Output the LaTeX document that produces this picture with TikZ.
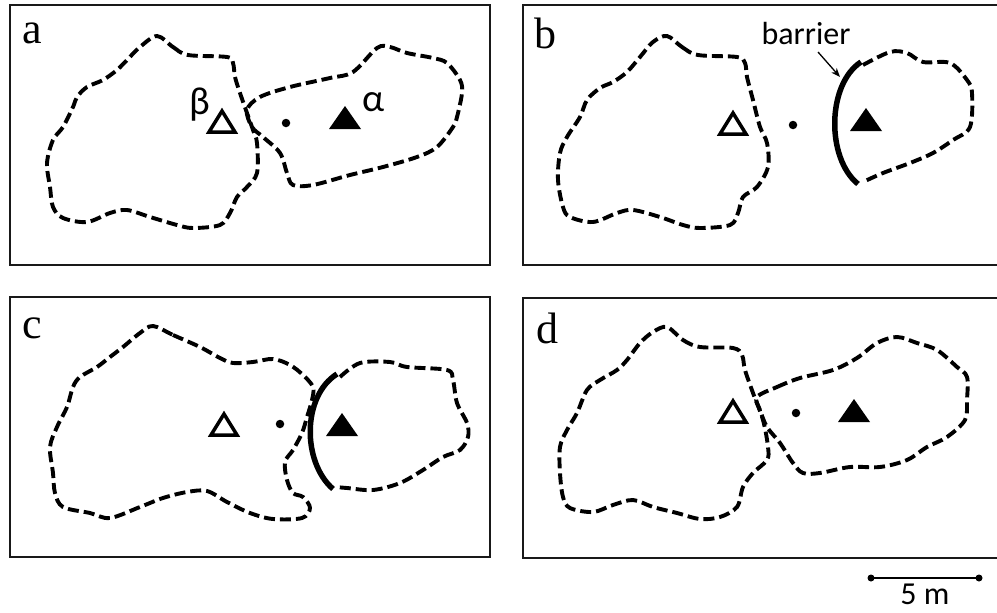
\documentclass[tikz,border=0pt]{standalone}
\usepackage{fontspec}
\setmainfont{Liberation Serif}
\newfontfamily\sansf{Carlito}
\usetikzlibrary{arrows.meta}
\tikzset{
  panel/.style={draw=black!90, line width=2pt},
  blob/.style={draw=black, line width=3.9pt, dash pattern=on 11pt off 5pt, line cap=butt},
  barrierline/.style={draw=black, line width=5.5pt},
  letter/.style={font=\fontsize{44}{44}\selectfont, inner sep=0pt, anchor=base west},
  greek/.style={font=\sansf\fontsize{39}{39}\selectfont, inner sep=0pt},
  sanslabel/.style={font=\sansf\fontsize{32}{32}\selectfont, inner sep=0pt},
  opentri/.pic={\draw[line width=3.5pt, line join=miter] (-13,10) -- (13,10) -- (0,-11) -- cycle;},
  filltri/.pic={\fill (-16,11) -- (16,11) -- (0,-12) -- cycle;},
  centdot/.style={circle, fill=black, inner sep=0pt, minimum size=8.5pt}
}
\begin{document}
\begin{tikzpicture}[x=1pt, y=-1pt]
\useasboundingbox (0,0) rectangle (997,613);
% panels
\draw[panel] (10,5) rectangle (490,265);
\draw[panel] (523,5) rectangle (1002,265);
\draw[panel] (10,297) rectangle (490,557);
\draw[panel] (523,298) rectangle (1002,558);
% labels
\node[letter] (la) at (22,43) {a};
\node[letter] (lb) at (534,48) {b};
\node[letter] (lc) at (22,338) {c};
\node[letter] (ld) at (536,343) {d};

% ---------- panel a
\draw[blob] plot[smooth cycle, tension=0.55] coordinates {(157,36) (173,47) (188,55) (227,57) (233,63) (235,77) (240,93) (247,113) (253,130) (257,143) (257,173) (247,187) (237,197) (230,213) (220,225) (193,228) (177,225) (150,217) (127,210) (110,213) (87,222) (63,218) (53,207) (50,187) (47,163) (53,140) (63,127) (73,107) (77,97) (87,87) (103,80) (117,70) (127,60) (140,47)};
\draw[blob] plot[smooth cycle, tension=0.55] coordinates {(247,110) (260,97) (290,87) (330,78) (353,72) (377,48) (390,47) (407,53) (433,58) (447,63) (460,80) (462,93) (457,117) (453,127) (437,147) (417,157) (383,167) (350,175) (313,185) (293,185) (287,173) (280,153) (263,137) (252,127)};
\pic at (222,122) {opentri};
\pic at (345,118) {filltri};
\node[centdot] (da) at (286,123) {};
\node[greek] (beta) at (200,105) {β};
\node[greek] (alpha) at (374,102) {α};

% ---------- panel b
\draw[blob] plot[smooth cycle, tension=0.55] coordinates {(667,36) (682,47) (698,55) (737,57) (745,63) (747,77) (753,100) (760,127) (767,143) (768,167) (757,187) (743,197) (738,213) (730,225) (700,228) (683,225) (660,217) (633,210) (617,213) (593,222) (570,217) (563,207) (558,180) (560,153) (567,137) (580,117) (587,100) (600,88) (613,82) (627,72) (640,57) (653,42)};
\draw[blob] plot[smooth, tension=0.55] coordinates {(863,65) (890,52) (907,53) (923,62) (950,63) (967,80) (972,93) (970,127) (953,140) (933,153) (910,163) (883,173) (863,182)};
\coordinate (b1) at (861,62);
\coordinate (b2) at (858,184);
\draw[barrierline] (b1) .. controls (827,84) and (826,158) .. (b2);
\pic at (733,124) {opentri};
\pic at (866,120) {filltri};
\node[centdot] (db) at (793,125) {};
\node[sanslabel] (bar) at (806,34) {barrier};
\coordinate (arrtip) at (840,77);
\draw[line width=1.3pt, -{Stealth[length=9pt, width=7pt]}] (818,52) -- (arrtip);

% ---------- panel c
\draw[blob] plot[smooth cycle, tension=0.55] coordinates {(153,326) (173,335) (200,347) (220,358) (233,363) (253,362) (273,359) (290,365) (303,375) (313,387) (312,400) (307,417) (302,433) (293,450) (285,462) (287,480) (293,493) (303,497) (310,508) (302,518) (273,519) (250,513) (227,502) (207,491) (187,492) (163,498) (140,507) (110,518) (90,513) (63,507) (55,493) (53,473) (50,447) (57,427) (67,407) (73,387) (80,377) (97,367) (110,357) (123,347) (140,333)};
\draw[blob] plot[smooth, tension=0.55] coordinates {(340,377) (360,363) (390,362) (407,367) (447,370) (453,380) (457,403) (467,423) (468,437) (460,450) (443,457) (423,470) (400,483) (373,490) (347,488) (335,487)};
\coordinate (c1) at (337,374);
\coordinate (c2) at (333,489);
\draw[barrierline] (c1) .. controls (302,396) and (302,462) .. (c2);
\pic at (224,425) {opentri};
\pic at (342,425) {filltri};
\node[centdot] (dc) at (280,424) {};

% ---------- panel d
\draw[blob] plot[smooth cycle, tension=0.55] coordinates {(667,327) (683,340) (700,347) (733,348) (742,355) (745,370) (753,393) (763,420) (768,447) (767,460) (753,473) (743,487) (737,507) (720,517) (700,519) (677,513) (653,507) (633,500) (613,505) (593,512) (570,508) (563,497) (560,473) (560,447) (567,430) (577,413) (587,390) (600,380) (617,370) (627,360) (640,343) (653,332)};
\draw[blob] plot[smooth cycle, tension=0.55] coordinates {(757,397) (777,387) (800,378) (833,370) (857,358) (877,343) (897,337) (917,343) (937,350) (957,367) (967,377) (967,400) (965,420) (947,437) (927,447) (907,460) (880,467) (850,467) (820,473) (803,473) (793,463) (780,443) (767,427) (760,410)};
\pic at (733,412) {opentri};
\pic at (854,411) {filltri};
\node[centdot] (dd) at (796,413) {};

% ---------- scale bar
\node[circle, fill=black, inner sep=0pt, minimum size=7pt] (s1) at (871,578) {};
\node[circle, fill=black, inner sep=0pt, minimum size=7pt] (s2) at (979,578) {};
\draw[line width=2pt] (s1.center) -- (s2.center);
\node[sanslabel] (sm) at (925,594) {5 m};
\end{tikzpicture}
\end{document}
